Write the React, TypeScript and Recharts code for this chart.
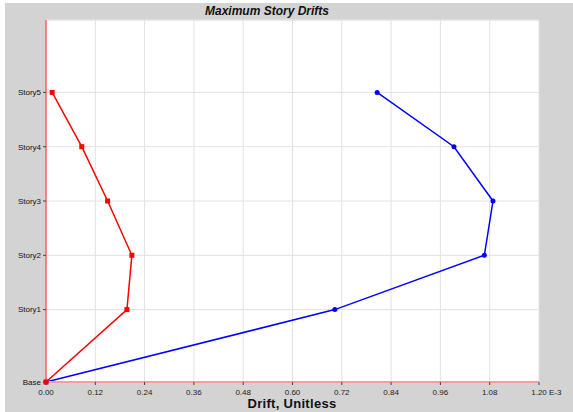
import { LineChart, Line, XAxis, YAxis, CartesianGrid, ReferenceLine } from "recharts";

const stories = ["Base", "Story1", "Story2", "Story3", "Story4", "Story5"];
const elevations = [0, 4, 7, 10, 13, 16];
const redDrift = [0, 0.197, 0.209, 0.15, 0.087, 0.015];
const blueDrift = [0, 0.703, 1.067, 1.088, 0.993, 0.806];
const xTicks = [0, 0.12, 0.24, 0.36, 0.48, 0.6, 0.72, 0.84, 0.96, 1.08, 1.2];

const data = stories.map((s, i) => ({
  story: s,
  elev: elevations[i],
  red: redDrift[i],
  blue: blueDrift[i],
}));

const FONT = "'Liberation Sans', Arial, sans-serif";

const storyName = (v: number) => {
  const i = elevations.indexOf(v);
  return i >= 0 ? stories[i] : "";
};

const SquareDot = (props: any) => {
  const { cx, cy } = props;
  if (cx == null || cy == null) return null;
  return <rect x={cx - 2.5} y={cy - 2.5} width={5} height={5} fill="#ff0000" />;
};

const XTick = (props: any) => {
  const { x, y, payload } = props;
  const last = payload.value === 1.2;
  return (
    <g>
      <text x={x} y={y + 8} textAnchor="middle" fontSize={8} fill="#222" fontFamily={FONT}>
        {payload.value.toFixed(2)}
      </text>
      {last && (
        <text x={x + 10} y={y + 8} textAnchor="start" fontSize={8} fill="#222" fontFamily={FONT}>
          E-3
        </text>
      )}
    </g>
  );
};

export default function App() {
  return (
    <div style={{ position: "absolute", left: 0, top: 0, width: 573, height: 412, background: "#fff" }}>
      <div
        style={{
          position: "absolute",
          left: 5,
          top: 3,
          width: 568,
          height: 409,
          background: "#d3d3d3",
        }}
      >
        <LineChart
          width={568}
          height={409}
          data={data}
          layout="vertical"
          margin={{ top: 17, right: 34, bottom: 0, left: 0 }}
        >
          <CartesianGrid stroke="#e2e2e2" fill="#ffffff" />
          <XAxis
            type="number"
            domain={[0, 1.2]}
            ticks={xTicks}
            height={30}
            tick={<XTick />}
            tickLine={{ stroke: "#444" }}
            tickSize={3}
            axisLine={{ stroke: "#f0a0a0", strokeWidth: 2 }}
            interval={0}
          />
          <YAxis
            type="number"
            dataKey="elev"
            domain={[0, 20]}
            reversed
            ticks={elevations}
            width={41}
            tickFormatter={storyName}
            tick={{ fontSize: 8, fill: "#111", fontFamily: FONT }}
            tickLine={{ stroke: "#444" }}
            tickSize={3}
            axisLine={{ stroke: "#ff2020", strokeWidth: 1 }}
            interval={0}
          />
          <ReferenceLine y={20} stroke="#e2e2e2" />
          <Line
            dataKey="blue"
            stroke="#0000ff"
            strokeWidth={1.5}
            dot={{ r: 2.5, fill: "#0000ff", stroke: "#0000ff", strokeWidth: 0 }}
            activeDot={false}
            isAnimationActive={false}
          />
          <Line
            dataKey="red"
            stroke="#ff0000"
            strokeWidth={1.5}
            dot={<SquareDot />}
            activeDot={false}
            isAnimationActive={false}
          />
        </LineChart>
        <div
          style={{
            position: "absolute",
            left: 0,
            width: 524,
            top: 1,
            textAlign: "center",
            fontFamily: FONT,
            fontWeight: "bold",
            fontStyle: "italic",
            fontSize: 12,
            color: "#111",
          }}
        >
          Maximum Story Drifts
        </div>
        <div
          style={{
            position: "absolute",
            left: 0,
            width: 574,
            top: 393,
            textAlign: "center",
            fontFamily: FONT,
            fontWeight: "bold",
            fontSize: 13,
            letterSpacing: 0.3,
            color: "#111",
          }}
        >
          Drift, Unitless
        </div>
      </div>
    </div>
  );
}
